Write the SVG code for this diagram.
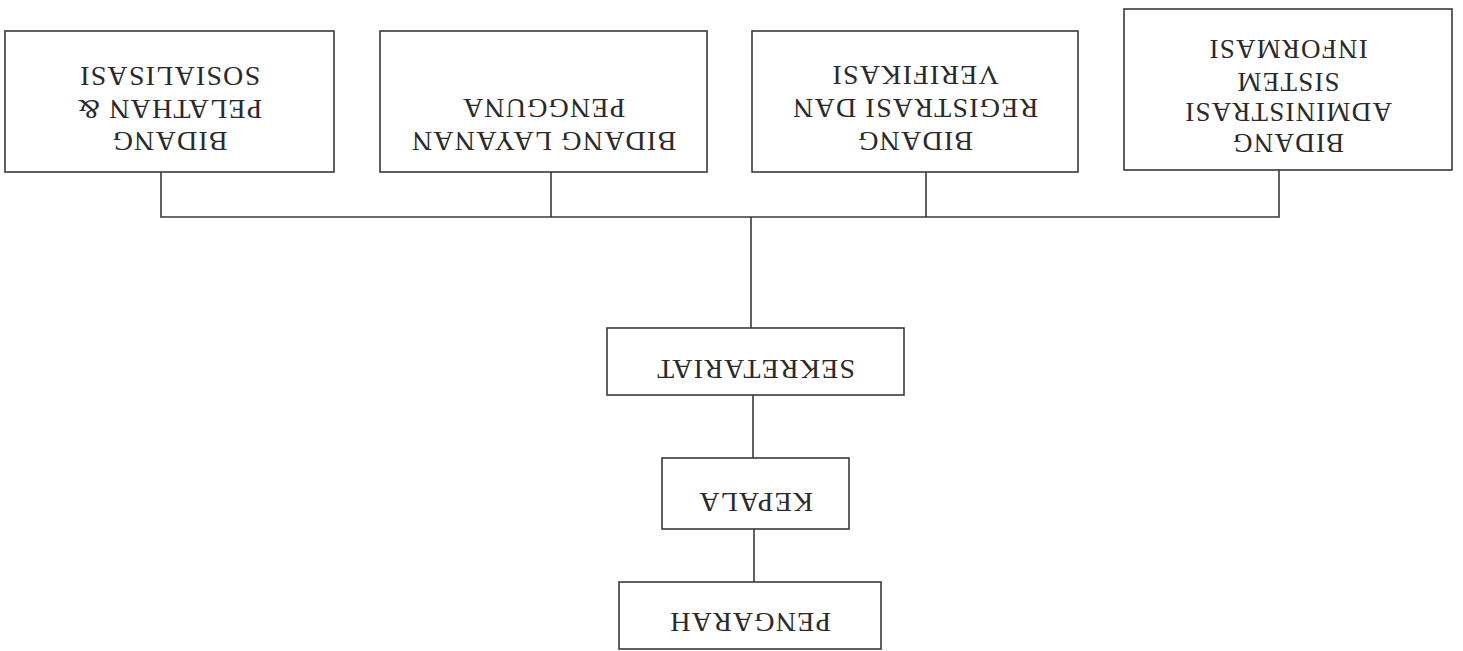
<svg xmlns="http://www.w3.org/2000/svg" width="1463" height="651" viewBox="0 0 1463 651">
<style>
.box{fill:#fff;stroke:#3a3a3a;stroke-width:1.6}
.ln{fill:none;stroke:#3a3a3a;stroke-width:1.6}
.t{font-family:"Liberation Serif","Times New Roman",serif;font-size:28px;letter-spacing:1.2px;fill:#2a2a2a;text-anchor:middle}
.s{font-size:27px}
</style>
<rect width="1463" height="651" fill="#fff"/>
<g id="connectors">
<path class="ln" d="M161 172V217H1279V170"/>
<path class="ln" d="M551 172V217"/>
<path class="ln" d="M926 172V217"/>
<path class="ln" d="M751 217V328"/>
<path class="ln" d="M753 395V458"/>
<path class="ln" d="M754 529V582"/>
</g>
<g id="node-pelatihan">
<rect class="box" x="5" y="31" width="329" height="141"/>
<g transform="rotate(180 169.5 101.5)"><text class="t" x="169.5" y="71">BIDANG</text><text class="t" x="169.5" y="103">PELATHAN &amp;</text><text class="t" x="169.5" y="136">SOSIALISASI</text></g>
</g>
<g id="node-layanan">
<rect class="box" x="380" y="31" width="327" height="141"/>
<g transform="rotate(180 543.5 101.5)"><text class="t" x="543.5" y="71">BIDANG LAYANAN</text><text class="t" x="543.5" y="104">PENGGUNA</text></g>
</g>
<g id="node-registrasi">
<rect class="box" x="752" y="31" width="326" height="141"/>
<g transform="rotate(180 915 101.5)"><text class="t" x="915" y="71">BIDANG</text><text class="t" x="915" y="104">REGISTRASI DAN</text><text class="t" x="915" y="137">VERIFIKASI</text></g>
</g>
<g id="node-administrasi">
<rect class="box" x="1124" y="9" width="328" height="161"/>
<g transform="rotate(180 1288 89.5)"><text class="t s" x="1288" y="45">BIDANG</text><text class="t s" x="1288" y="76">ADMINISTRASI</text><text class="t s" x="1288" y="106">SISTEM</text><text class="t s" x="1288" y="139">INFORMASI</text></g>
</g>
<g id="node-sekretariat">
<rect class="box" x="607" y="328" width="297" height="67"/>
<g transform="rotate(180 755.5 361.5)"><text class="t" x="755.5" y="363">SEKRETARIAT</text></g>
</g>
<g id="node-kepala">
<rect class="box" x="662" y="458" width="187" height="71"/>
<g transform="rotate(180 755.5 493.5)"><text class="t" x="755.5" y="494">KEPALA</text></g>
</g>
<g id="node-pengarah">
<rect class="box" x="619" y="582" width="262" height="67"/>
<g transform="rotate(180 750 616)"><text class="t" x="750" y="619">PENGARAH</text></g>
</g>
</svg>
